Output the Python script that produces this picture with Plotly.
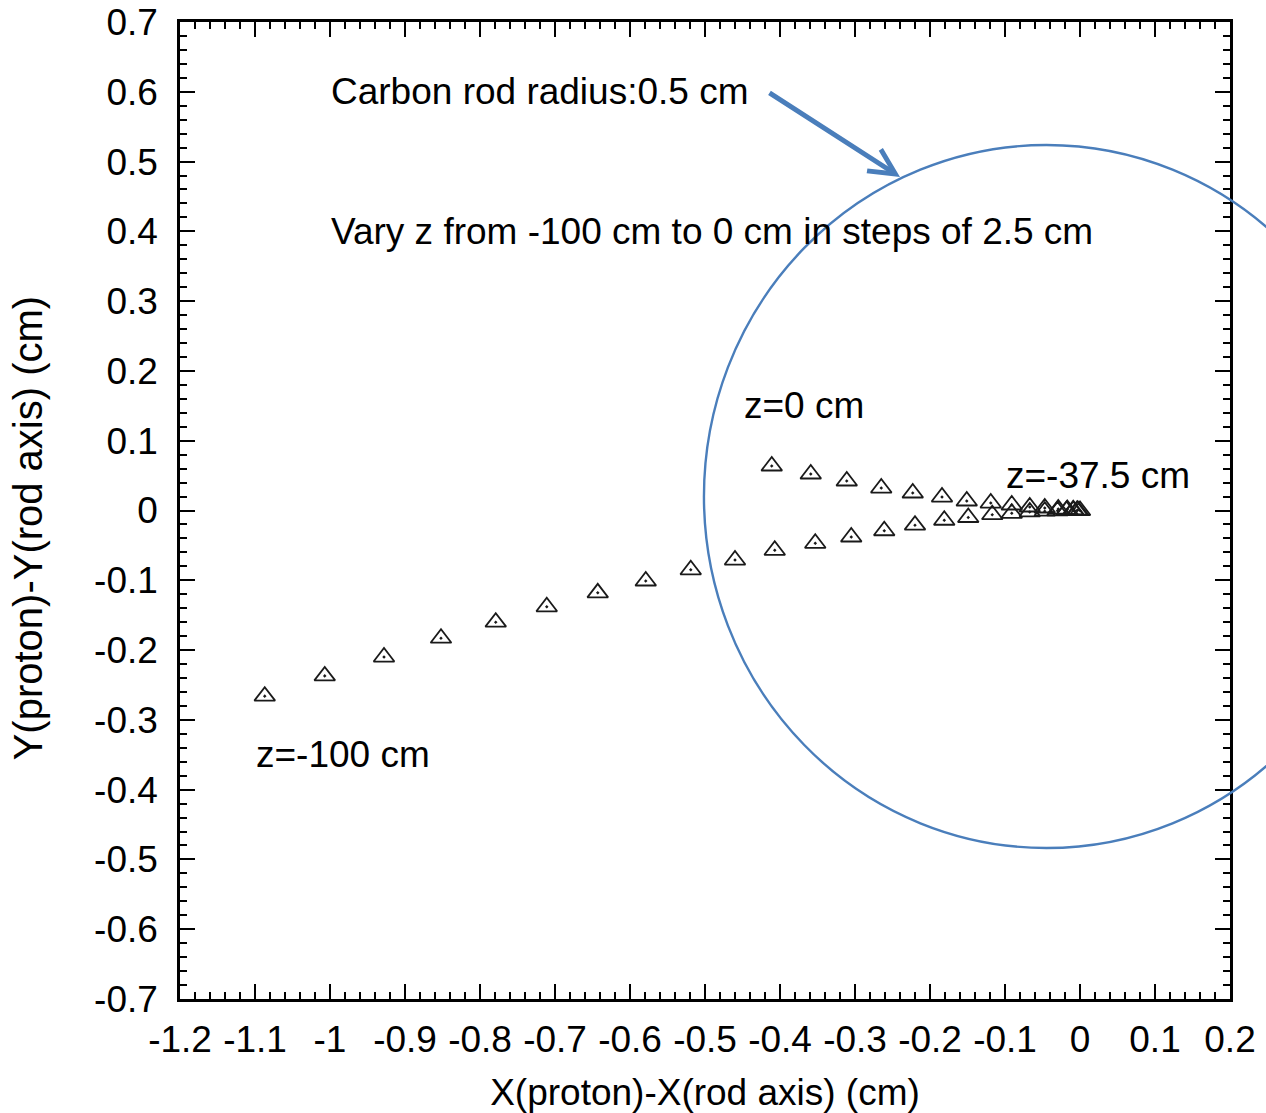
import plotly.graph_objects as go

# z from -100 cm to 0 cm in steps of 2.5 cm
# lower branch: z = -100 ... -37.5 (26 points)
x_lower = [-1.087, -1.007, -0.928, -0.852, -0.779, -0.711, -0.643, -0.579, -0.519,
           -0.460, -0.407, -0.353, -0.305, -0.261, -0.220, -0.181, -0.149, -0.117,
           -0.091, -0.067, -0.047, -0.030, -0.018, -0.009, -0.004, 0.0]
y_lower = [-0.266, -0.237, -0.210, -0.183, -0.160, -0.138, -0.118, -0.101, -0.085,
           -0.071, -0.057, -0.047, -0.038, -0.029, -0.021, -0.014, -0.010, -0.006,
           -0.004, -0.002, -0.001, -0.0005, 0.0, 0.0, 0.0, 0.0]
# upper branch: z = -35 ... 0 (15 points)
x_upper = [-0.003, -0.009, -0.017, -0.029, -0.047, -0.067, -0.091, -0.119, -0.151,
           -0.184, -0.223, -0.265, -0.311, -0.359, -0.411]
y_upper = [0.0005, 0.001, 0.0015, 0.002, 0.0036, 0.005, 0.0079, 0.0107, 0.0136,
           0.0193, 0.0251, 0.0322, 0.0423, 0.0523, 0.0638]

x_vals = x_lower + x_upper
y_vals = y_lower + y_upper

x_tickvals = [-1.2, -1.1, -1.0, -0.9, -0.8, -0.7, -0.6, -0.5, -0.4, -0.3, -0.2, -0.1, 0.0, 0.1, 0.2]
x_ticktext = ["-1.2", "-1.1", "-1", "-0.9", "-0.8", "-0.7", "-0.6", "-0.5", "-0.4", "-0.3",
              "-0.2", "-0.1", "0", "0.1", "0.2"]
y_tickvals = [0.7, 0.6, 0.5, 0.4, 0.3, 0.2, 0.1, 0.0, -0.1, -0.2, -0.3, -0.4, -0.5, -0.6, -0.7]
y_ticktext = ["0.7", "0.6", "0.5", "0.4", "0.3", "0.2", "0.1", "0", "-0.1", "-0.2", "-0.3",
              "-0.4", "-0.5", "-0.6", "-0.7"]

FONT = "Liberation Sans, Arial, Helvetica, sans-serif"
BLUE = "#4A7EBB"
FS = 37

fig = go.Figure()
fig.add_trace(go.Scatter(
    x=x_vals, y=y_vals, mode="markers",
    marker=dict(symbol="triangle-up-open-dot", size=18, color="#1a1a1a",
                line=dict(width=1.8, color="#1a1a1a")),
    showlegend=False, cliponaxis=False))

axis_common = dict(
    showline=True, linecolor="black", linewidth=2.5, mirror="ticks",
    ticks="inside", ticklen=15, tickwidth=2, tickcolor="black",
    showgrid=False, zeroline=False, automargin=False, tickangle=0,
    tickfont=dict(family=FONT, size=FS, color="black"),
)

fig.update_xaxes(range=[-1.2, 0.2], tickmode="array", tickvals=x_tickvals, ticktext=x_ticktext,
                 minor=dict(dtick=0.02, tick0=0, ticks="inside", ticklen=7, tickwidth=2, tickcolor="black"),
                 title=dict(text="X(proton)-X(rod axis) (cm)", font=dict(family=FONT, size=FS, color="black"),
                            standoff=21),
                 ticklabelstandoff=6,
                 **axis_common)
fig.update_yaxes(range=[-0.7, 0.7], tickmode="array", tickvals=y_tickvals, ticktext=y_ticktext,
                 minor=dict(dtick=0.02, tick0=0, ticks="inside", ticklen=7, tickwidth=2, tickcolor="black"),
                 ticklabelstandoff=12,
                 **axis_common)

# y-axis title placed as rotated text
fig.add_annotation(text="Y(proton)-Y(rod axis) (cm)", xref="paper", yref="paper",
                   x=-0.1445, y=0.482, xanchor="center", yanchor="middle",
                   textangle=-90, showarrow=False,
                   font=dict(family=FONT, size=40, color="black"))

# rod outline (drawn over the plot, extends past the frame)
fig.add_shape(type="circle", xref="paper", yref="paper",
              x0=0.499, x1=1.1514, y0=0.1546, y1=0.8741,
              line=dict(color=BLUE, width=2.4))

texts = [
    ("Carbon rod radius:0.5 cm", -1.0, 0.6),
    ("Vary z from -100 cm to 0 cm in steps of 2.5 cm", -1.0, 0.4),
    ("z=0 cm", -0.45, 0.15),
    ("z=-37.5 cm", -0.1, 0.05),
    ("z=-100 cm", -1.1, -0.35),
]
for t, x, y in texts:
    fig.add_annotation(x=x, y=y, xref="x", yref="y", text=t, showarrow=False,
                       xanchor="left", yanchor="middle", borderpad=0,
                       font=dict(family=FONT, size=FS, color="black"))

fig.add_annotation(x=-0.24, y=0.478, xref="x", yref="y", text="",
                   showarrow=True, arrowhead=5, arrowsize=1.0, arrowwidth=5,
                   arrowcolor=BLUE, ax=-132, ay=-85, standoff=0)

fig.update_layout(
    width=1266, height=1113,
    margin=dict(l=180, r=36, t=22, b=114),
    paper_bgcolor="white", plot_bgcolor="white",
    font=dict(family=FONT, color="black"),
)

fig.write_html("out.html")
